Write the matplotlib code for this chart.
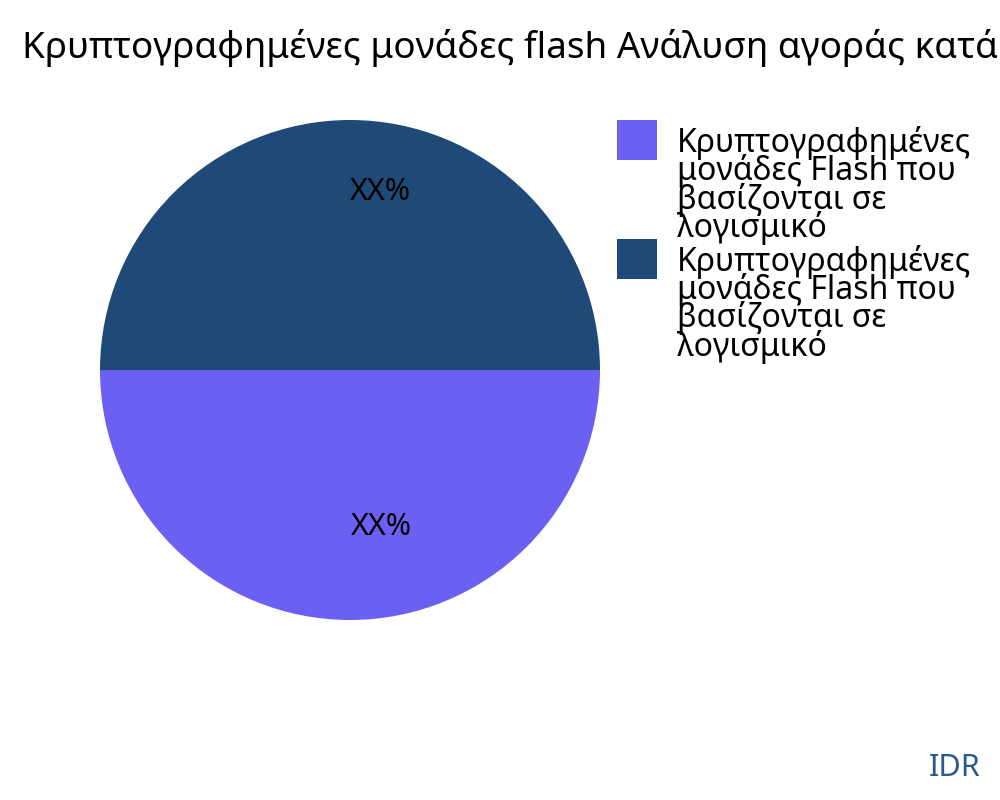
import matplotlib
matplotlib.use("Agg")
import matplotlib.pyplot as plt

plt.rcParams['font.family'] = ['Noto Sans', 'DejaVu Sans']

# data
title = "Κρυπτογραφημένες μονάδες flash Ανάλυση αγοράς κατά τύπο"
labels = [
    "Κρυπτογραφημένες\nμονάδες Flash που\nβασίζονται σε\nλογισμικό",
    "Κρυπτογραφημένες\nμονάδες Flash που\nβασίζονται σε\nλογισμικό",
]
shares = [50, 50]
pct_text = ["XX%", "XX%"]
colors = ["#6C60F2", "#1F4A78"]

fig = plt.figure(figsize=(10, 8), dpi=100)
ax = fig.add_axes([0.1, 0.225, 0.5, 0.625])

wedges, texts = ax.pie(shares, colors=colors, startangle=180, counterclock=True,
                       radius=1.0, wedgeprops=dict(linewidth=0))
ax.set_aspect("equal")
ax.set_xlim(-1, 1)
ax.set_ylim(-1, 1)

# percentage labels, placed inside each slice like the original
label_pos = [(0.126, -0.628), (0.122, 0.712)]
for (x, y), t in zip(label_pos, pct_text):
    ax.text(x, y, t, ha="center", va="center", fontsize=22, color="black")

fig.text(0.022, 0.94, title, fontsize=26.5, ha="left", va="center")

leg = fig.legend(wedges, labels, loc="upper left", bbox_to_anchor=(0.617, 0.8425),
                 frameon=False, fontsize=23, handlelength=1.25, handleheight=1.55,
                 handletextpad=0.63, labelspacing=0.0, borderpad=0, borderaxespad=0)
for t in leg.get_texts():
    t.set_linespacing(0.78)

# move the squares up so they sit at the top of each wrapped label
fig.canvas.draw()
for rect, txt in zip(leg.legend_handles, leg.get_texts()):
    tb = txt.get_window_extent()
    hb = rect.get_window_extent()
    shift = (tb.y1 + 6) - hb.y1
    rect.set_y(rect.get_y() + shift * 72 / fig.dpi)

fig.text(0.98, 0.04, "IDR", fontsize=22, color="#2A5A8A", ha="right", va="center")

fig.savefig("out.png", dpi=100)
